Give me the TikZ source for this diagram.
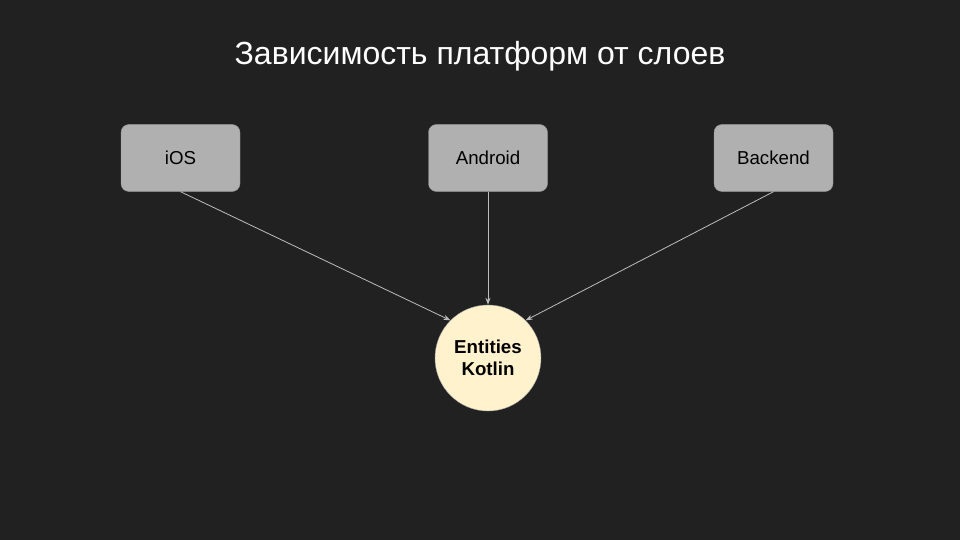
\documentclass[tikz,border=0pt]{standalone}
\usepackage{fontspec}
\setmainfont{Liberation Sans}
\usetikzlibrary{arrows.meta, positioning}

\definecolor{slidebg}{HTML}{212121}
\definecolor{boxfill}{HTML}{B0B0B0}
\definecolor{corefill}{HTML}{FFF2CC}
\definecolor{linkgray}{HTML}{BDBDBD}

\tikzset{
    platform/.style={draw=boxfill!85!black, fill=boxfill, rounded corners=8pt,
        minimum width=119pt, minimum height=67pt, font=\fontsize{18.7}{22}\selectfont},
    core/.style={circle, draw=gray!80, fill=corefill, minimum size=106pt, inner sep=0pt,
        align=center, font=\fontsize{18.7}{22}\selectfont\bfseries},
    link/.style={->, draw=linkgray, line width=0.8pt}
}

\begin{document}
\begin{tikzpicture}[x=1pt, y=-1pt, >={Stealth[length=7pt, width=5pt]}]
            \fill[slidebg] (0,0) rectangle (960,540);
            \useasboundingbox (0,0) rectangle (960,540);
            
            \node (title) [text=white, font=\fontsize{32}{38}\selectfont] at (480,56) {Зависимость платформ от слоев};
            
            \node (android) [platform] at (488,158) {Android};
            \node (ios) [platform, left of=android, xshift=-307.5pt, node distance=0pt] {iOS};
            \node (backend) [platform, right of=android, xshift=285.5pt, node distance=0pt] {Backend};
            
            \node (entities) [core] at (488,358) {Entities\\Kotlin};
            
            \draw [link] (ios.south) -- (entities.north west);
            \draw [link] (android.south) -- (entities.north);
            \draw [link] (backend.south) -- (entities.north east);
        \end{tikzpicture}
\end{document}
